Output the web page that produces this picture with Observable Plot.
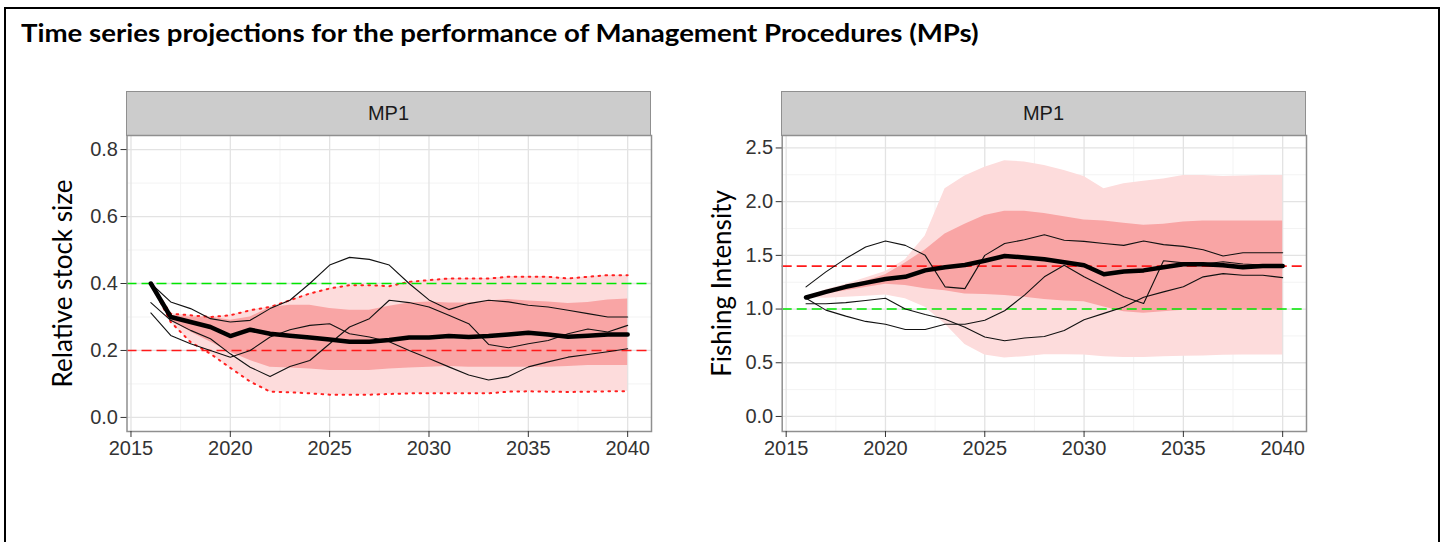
<!DOCTYPE html>
<html>
<head>
<meta charset="utf-8">
<script src="https://cdn.jsdelivr.net/npm/d3@7"></script>
<script src="https://cdn.jsdelivr.net/npm/@observablehq/plot@0.6"></script>
<style>
html, body { margin: 0; padding: 0; background: #fff; }
#page { position: relative; width: 1442px; height: 542px; overflow: hidden; background: #fff; }
#border { position: absolute; left: 4px; top: 7px; width: 1436px; height: 620px; border: 2.5px solid #000; box-sizing: border-box; }
#title { position: absolute; left: 21px; top: 18px; font-family: Lato, sans-serif; font-weight: 700; font-size: 24px; color: #000; white-space: nowrap; transform: scaleX(1.15); transform-origin: 0 0; }
.strip { position: absolute; top: 91px; height: 45px; width: 525px; background: #cccccc; border: 1.5px solid #8f8f8f; box-sizing: border-box;
  font-family: "Liberation Sans", Arial, sans-serif; font-size: 20px; color: #1a1a1a; display: flex; align-items: center; justify-content: center; }
.panel { position: absolute; top: 125px; }
</style>
</head>
<body>
<div id="page">
  <div id="border"></div>
  <div id="title">Time series projections for the performance of Management Procedures (MPs)</div>
  <div class="strip" style="left:126px">MP1</div>
  <div class="strip" style="left:781px">MP1</div>
  <div class="panel" id="left" style="left:0px"></div>
  <div class="panel" id="right" style="left:660px"></div>
</div>
<script>
// ---------- data ----------
const years = [2016,2017,2018,2019,2020,2021,2022,2023,2024,2025,2026,2027,2028,2029,2030,2031,2032,2033,2034,2035,2036,2037,2038,2039,2040];
const xTicks = [2015,2020,2025,2030,2035,2040];
const xMinor = [2017.5,2022.5,2027.5,2032.5,2037.5];

// Relative stock size
const stockMed     = [0.40,0.30,0.285,0.27,0.243,0.262,0.25,0.244,0.239,0.233,0.226,0.226,0.231,0.239,0.239,0.243,0.24,0.243,0.248,0.253,0.248,0.241,0.244,0.248,0.248];
const stockInnerHi = [0.40,0.305,0.30,0.30,0.29,0.30,0.328,0.335,0.335,0.325,0.32,0.32,0.332,0.342,0.345,0.342,0.342,0.348,0.352,0.348,0.345,0.34,0.343,0.351,0.354];
const stockInnerLo = [0.40,0.29,0.255,0.225,0.195,0.17,0.15,0.148,0.145,0.14,0.14,0.14,0.145,0.148,0.15,0.152,0.15,0.15,0.15,0.15,0.15,0.152,0.155,0.155,0.155];
const stockOuterHi = [0.40,0.31,0.305,0.30,0.305,0.32,0.33,0.35,0.37,0.385,0.395,0.395,0.392,0.405,0.41,0.415,0.415,0.415,0.42,0.42,0.42,0.415,0.42,0.425,0.425];
const stockOuterLo = [0.40,0.285,0.225,0.19,0.148,0.107,0.077,0.075,0.072,0.068,0.068,0.068,0.07,0.072,0.072,0.072,0.072,0.072,0.077,0.078,0.077,0.076,0.077,0.078,0.078];
const stockWorm1   = [0.40,0.345,0.325,0.295,0.285,0.29,0.325,0.35,0.40,0.455,0.478,0.472,0.455,0.40,0.351,0.322,0.34,0.35,0.345,0.335,0.33,0.32,0.31,0.30,0.30];
const stockWorm2   = [0.343,0.29,0.26,0.235,0.19,0.15,0.122,0.152,0.17,0.22,0.27,0.295,0.35,0.343,0.33,0.305,0.28,0.218,0.208,0.22,0.23,0.25,0.264,0.255,0.275];
const stockWorm3   = [0.312,0.245,0.22,0.20,0.18,0.20,0.24,0.262,0.275,0.28,0.25,0.24,0.226,0.20,0.176,0.151,0.127,0.112,0.122,0.151,0.166,0.18,0.188,0.196,0.205];
const stockRefs    = [{v: 0.4, c: "#00e600"}, {v: 0.2, c: "#ff1a1a"}];
const stockYTicks  = [0.0,0.2,0.4,0.6,0.8];
const stockYMinor  = [0.1,0.3,0.5,0.7];

// Fishing intensity
const fishMed     = [1.108,1.16,1.207,1.244,1.28,1.30,1.36,1.39,1.41,1.45,1.494,1.48,1.463,1.436,1.408,1.324,1.35,1.36,1.39,1.417,1.417,1.408,1.39,1.40,1.40];
const fishInnerHi = [1.108,1.16,1.21,1.26,1.32,1.43,1.55,1.70,1.79,1.87,1.91,1.91,1.89,1.86,1.83,1.82,1.80,1.78,1.79,1.81,1.82,1.82,1.82,1.82,1.82];
const fishInnerLo = [1.108,1.14,1.17,1.20,1.23,1.22,1.19,1.17,1.14,1.136,1.127,1.11,1.09,1.075,1.067,1.02,0.975,0.96,0.975,0.99,0.99,0.99,0.99,0.99,0.99];
const fishOuterHi = [1.108,1.18,1.23,1.29,1.35,1.46,1.68,2.12,2.24,2.32,2.38,2.37,2.336,2.29,2.234,2.12,2.166,2.19,2.21,2.243,2.243,2.234,2.24,2.243,2.243];
const fishOuterLo = [1.108,1.10,1.11,1.12,1.13,1.095,1.016,0.86,0.67,0.573,0.545,0.557,0.575,0.575,0.572,0.557,0.548,0.55,0.557,0.56,0.563,0.57,0.572,0.572,0.572];
const fishWorm1   = [1.207,1.346,1.47,1.578,1.634,1.593,1.50,1.207,1.19,1.50,1.61,1.646,1.692,1.64,1.63,1.61,1.593,1.634,1.60,1.584,1.553,1.494,1.525,1.525,1.525];
const fishWorm2   = [1.05,1.05,1.06,1.08,1.10,1.00,0.95,0.905,0.83,0.74,0.705,0.73,0.745,0.80,0.90,0.96,1.02,1.11,1.16,1.207,1.30,1.33,1.315,1.315,1.293];
const fishWorm3   = [1.10,0.99,0.934,0.885,0.858,0.81,0.81,0.858,0.858,0.896,0.984,1.13,1.30,1.408,1.30,1.207,1.114,1.052,1.45,1.43,1.42,1.44,1.42,1.41,1.41];
const fishRefs    = [{v: 1.4, c: "#ff1a1a"}, {v: 1.0, c: "#00e600"}];
const fishYTicks  = [0.0,0.5,1.0,1.5,2.0,2.5];
const fishYMinor  = [0.25,0.75,1.25,1.75,2.25];

function table(med, iLo, iHi, oLo, oHi, w1, w2, w3) {
  return years.map((year, i) => ({year, med: med[i], iLo: iLo[i], iHi: iHi[i], oLo: oLo[i], oHi: oHi[i], w1: w1[i], w2: w2[i], w3: w3[i]}));
}

function panel({data, yDomain, yTicks, yMinor, yLabel, labelOffset, refs, dotted, marginLeft, marginRight}) {
  const axisFont = {fontSize: 20, fontFamily: '"Liberation Sans", Arial, sans-serif', fill: "#333", stroke: "#333"};
  return Plot.plot({
    width: 670, height: 350,
    marginLeft, marginRight, marginTop: 10, marginBottom: 44,
    style: {fontFamily: '"Liberation Sans", Arial, sans-serif', fontSize: "20px", background: "transparent", overflow: "visible"},
    x: {domain: [2014.8, 2041.2], label: null},
    y: {domain: yDomain, label: null},
    marks: [
      Plot.gridX(xMinor, {stroke: "#f3f3f3", strokeOpacity: 1, strokeWidth: 1}),
      Plot.gridY(yMinor, {stroke: "#f3f3f3", strokeOpacity: 1, strokeWidth: 1}),
      Plot.gridX(xTicks, {stroke: "#e3e3e3", strokeOpacity: 1, strokeWidth: 1.3}),
      Plot.gridY(yTicks, {stroke: "#e3e3e3", strokeOpacity: 1, strokeWidth: 1.3}),
      Plot.areaY(data, {x: "year", y1: "oLo", y2: "oHi", fill: "#fddcdc"}),
      Plot.areaY(data, {x: "year", y1: "iLo", y2: "iHi", fill: "#f9a5a5"}),
      ...(dotted ? [
        Plot.lineY(data, {x: "year", y: "oHi", stroke: "#ff2020", strokeWidth: 2, strokeDasharray: "1.6,5.4"}),
        Plot.lineY(data, {x: "year", y: "oLo", stroke: "#ff2020", strokeWidth: 2, strokeDasharray: "1.6,5.4"})
      ] : []),
      Plot.ruleY(refs, {y: "v", stroke: "c", strokeWidth: 1.6, strokeDasharray: "10,5"}),
      Plot.lineY(data, {x: "year", y: "w1", stroke: "#111", strokeWidth: 1.1}),
      Plot.lineY(data, {x: "year", y: "w2", stroke: "#111", strokeWidth: 1.1}),
      Plot.lineY(data, {x: "year", y: "w3", stroke: "#111", strokeWidth: 1.1}),
      Plot.lineY(data, {x: "year", y: "med", stroke: "#000", strokeWidth: 4.5}),
      Plot.frame({stroke: "#8f8f8f", strokeWidth: 1.5}),
      Plot.axisX({ticks: xTicks, tickFormat: d => String(d), tickSize: 6, tickPadding: 3, label: null, ...axisFont}),
      Plot.axisY({ticks: yTicks, tickFormat: d3.format(".1f"), tickSize: 6, tickPadding: 3, label: null, ...axisFont}),
      Plot.text([yLabel], {frameAnchor: "left", textAnchor: "middle", lineAnchor: "middle", dx: -labelOffset, rotate: -90, fontSize: 26, fontFamily: "Lato, sans-serif", fill: "#000"})
    ]
  });
}

document.getElementById("left").append(panel({
  data: table(stockMed, stockInnerLo, stockInnerHi, stockOuterLo, stockOuterHi, stockWorm1, stockWorm2, stockWorm3),
  yDomain: [-0.042, 0.842], yTicks: stockYTicks, yMinor: stockYMinor,
  yLabel: "Relative stock size", labelOffset: 63, refs: stockRefs, dotted: true,
  marginLeft: 126.5, marginRight: 19
}));

document.getElementById("right").append(panel({
  data: table(fishMed, fishInnerLo, fishInnerHi, fishOuterLo, fishOuterHi, fishWorm1, fishWorm2, fishWorm3),
  yDomain: [-0.14, 2.616], yTicks: fishYTicks, yMinor: fishYMinor,
  yLabel: "Fishing Intensity", labelOffset: 60, refs: fishRefs, dotted: false,
  marginLeft: 121.7, marginRight: 24
}));
</script>
</body>
</html>
